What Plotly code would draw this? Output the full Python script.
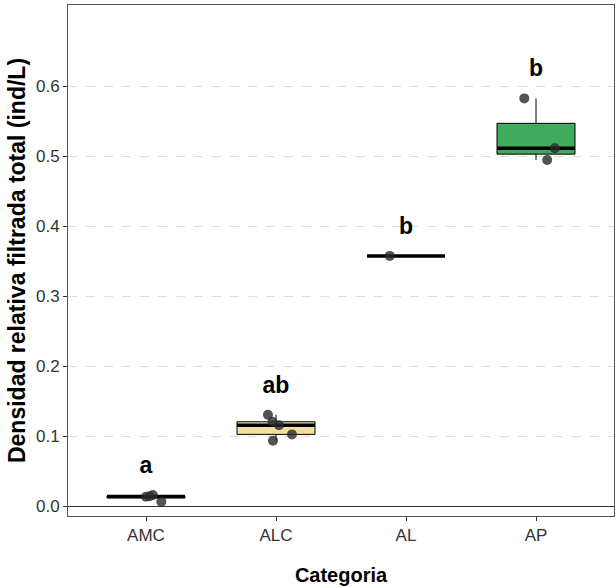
import plotly.graph_objects as go
import numpy as np

categories = ["AMC", "ALC", "AL", "AP"]
values = {
    "AMC": [0.0164, 0.0145, 0.0140, 0.0069],
    "ALC": [0.131, 0.121, 0.116, 0.103, 0.094],
    "AL": [0.358],
    "AP": [0.583, 0.5117, 0.495],
}
jitter = {
    "AMC": [0.053, 0.028, 0.0, 0.118],
    "ALC": [-0.062, -0.028, 0.023, 0.123, -0.023],
    "AL": [-0.125],
    "AP": [-0.09, 0.145, 0.086],
}
letters = ["a", "ab", "b", "b"]
fills = ["#F8766D", "#F3E0A0", "#9ECAE1", "#41AB5D"]

FONT = "Liberation Sans, Arial, sans-serif"
fig = go.Figure()

box_w = 0.6
for i, cat in enumerate(categories):
    pos = i + 1
    v = np.array(values[cat])
    q1, med, q3 = np.percentile(v, [25, 50, 75])
    iqr = q3 - q1
    lo = v[v >= q1 - 1.5 * iqr].min()
    hi = v[v <= q3 + 1.5 * iqr].max()
    fig.add_trace(go.Box(
        x=[pos], q1=[q1], median=[med], q3=[q3],
        lowerfence=[lo], upperfence=[hi],
        width=box_w, fillcolor=fills[i], whiskerwidth=0,
        line=dict(color="black", width=1),
        boxpoints=False, showlegend=False, hoverinfo="skip",
    ))
    fig.add_trace(go.Scatter(
        x=[pos - box_w / 2, pos + box_w / 2], y=[med, med],
        mode="lines", line=dict(color="black", width=3.5),
        showlegend=False, hoverinfo="skip",
    ))

for i, cat in enumerate(categories):
    pos = i + 1
    fig.add_trace(go.Scatter(
        x=[pos + j for j in jitter[cat]], y=values[cat],
        mode="markers",
        marker=dict(color="rgba(40,40,40,0.8)", size=10, line=dict(width=0)),
        showlegend=False,
    ))

label_y = [max(values[c]) + 0.04 for c in categories]
fig.add_trace(go.Scatter(
    x=[i + 1 for i in range(len(categories))], y=label_y,
    mode="text", text=letters, textposition="middle center",
    textfont=dict(family=FONT, size=23, color="black", weight="bold"),
    showlegend=False,
))

fig.update_layout(
    width=616, height=588,
    margin=dict(l=68, r=2, t=5, b=72),
    paper_bgcolor="white", plot_bgcolor="white",
    font=dict(family=FONT),
)
fig.update_xaxes(
    range=[0.4, 4.6], tickvals=[1, 2, 3, 4], ticktext=categories,
    showgrid=False, zeroline=False, automargin=False,
    showline=True, mirror=True, linecolor="#555555", linewidth=1,
    ticks="outside", ticklen=4, tickcolor="#333333",
    tickfont=dict(size=17, color="#333333", family=FONT),
    title=dict(text="<b>Categoria</b>", font=dict(size=20, color="black", family=FONT), standoff=23),
)
fig.update_yaxes(
    range=[-0.0136, 0.7164], tickvals=[0, 0.1, 0.2, 0.3, 0.4, 0.5, 0.6],
    ticktext=["0.0", "0.1", "0.2", "0.3", "0.4", "0.5", "0.6"],
    showgrid=True, gridcolor="#DDDDDD", gridwidth=1, griddash="dash",
    zeroline=True, zerolinecolor="#333333", zerolinewidth=1, automargin=False,
    showline=True, mirror=True, linecolor="#555555", linewidth=1,
    ticks="outside", ticklen=4, tickcolor="#333333",
    tickfont=dict(size=17, color="#333333", family=FONT),
    title=dict(text="<b>Densidad relativa filtrada total (ind/L)</b>", font=dict(size=23, color="black", family=FONT), standoff=3),
)

fig.write_html("out.html", config={"displayModeBar": False},
               post_script="document.body.style.margin='0';")
